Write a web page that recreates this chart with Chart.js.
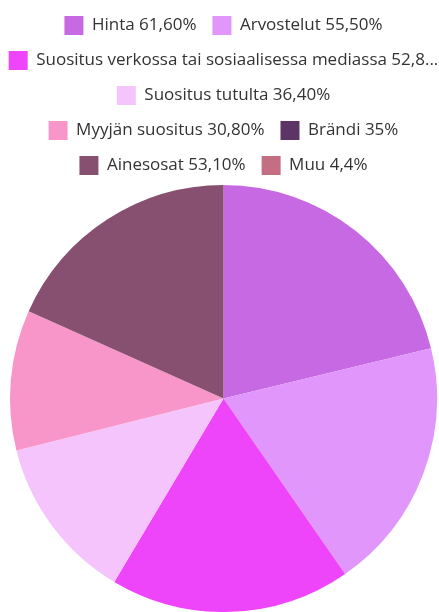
<!DOCTYPE html>
<html lang="fi">
<head>
<meta charset="utf-8">
<title>Ostopäätökseen vaikuttavat tekijät</title>
<script src="https://cdn.jsdelivr.net/npm/chart.js@4.4.1/dist/chart.umd.min.js"></script>
<style>
  html, body { margin: 0; padding: 0; background: #fff; overflow: hidden; }
  #wrap { position: absolute; left: 4px; top: 0; width: 439px; height: 612px; }
</style>
</head>
<body>
<div id="wrap"><canvas id="pie"></canvas></div>
<script>
"use strict";

// ── Data ──────────────────────────────────────────────
const labels = [
  "Hinta 61,60%",
  "Arvostelut 55,50%",
  "Suositus verkossa tai sosiaalisessa mediassa 52,80%",
  "Suositus tutulta 36,40%",
  "Myyjän suositus 30,80%",
  "Brändi 35%",
  "Ainesosat 53,10%",
  "Muu 4,4%",
];
// Brändi and Muu have no slice in the pie
const values = [61.6, 55.5, 52.8, 36.4, 30.8, null, 53.1, null];
const colors = [
  "#C869E4", "#E096FA", "#EE44FA", "#F6C4FC",
  "#F896CA", "#5C3466", "#875070", "#C46E84",
];

const FONT = { family: "'Open Sans', sans-serif", size: 17 };
const MAX_LABEL_W = 406;

// shorten a legend label with "..." when it is too wide
function clip(ctx, text) {
  if (ctx.measureText(text).width <= MAX_LABEL_W) return text;
  let t = text;
  while (t.length && ctx.measureText(t + "...").width > MAX_LABEL_W) t = t.slice(0, -1);
  return t.trimEnd() + "...";
}

new Chart(document.getElementById("pie"), {
  type: "pie",
  data: {
    labels,
    datasets: [{
      data: values,
      backgroundColor: colors,
      borderWidth: 0,
    }],
  },
  options: {
    responsive: true,
    maintainAspectRatio: false,
    animation: false,
    layout: { padding: 0 },
    plugins: {
      tooltip: { enabled: false },
      legend: {
        position: "top",
        labels: {
          color: "#333",
          font: FONT,
          boxWidth: 19,
          boxHeight: 19,
          padding: 16,
          generateLabels(chart) {
            const items = Chart.overrides.pie.plugins.legend.labels.generateLabels(chart);
            const ctx = chart.ctx;
            ctx.save();
            ctx.font = `${FONT.size}px ${FONT.family}`;
            items.forEach(it => { it.text = clip(ctx, it.text); it.lineWidth = 0; });
            ctx.restore();
            return items;
          },
        },
      },
    },
  },
});
</script>
</body>
</html>
